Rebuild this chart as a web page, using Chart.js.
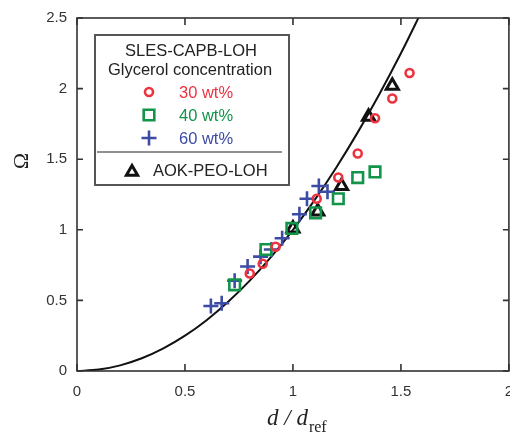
<!DOCTYPE html>
<html>
<head>
<meta charset="utf-8">
<script src="https://cdn.jsdelivr.net/npm/chart.js@4/dist/chart.umd.min.js"></script>
<style>
  html, body { margin: 0; padding: 0; background: #fff; overflow: hidden; }
  #wrap { width: 510px; height: 436px; overflow: hidden; }
</style>
</head>
<body>
<div id="wrap"><canvas id="chart" width="519" height="436"></canvas></div>
<script>
// values
const xTicks = [0, 0.5, 1, 1.5, 2];
const yTicks = [0, 0.5, 1, 1.5, 2, 2.5];

const fitX = [0, 0.1, 0.2, 0.3, 0.4, 0.5, 0.6, 0.7, 0.8, 0.9, 1.0, 1.1, 1.2, 1.3, 1.4, 1.5, 1.6];
const fitY = [0, 0.01, 0.04, 0.09, 0.16, 0.25, 0.36, 0.49, 0.64, 0.81, 1.0, 1.21, 1.44, 1.69, 1.96, 2.25, 2.56];

const wt30X = [0.80, 0.86, 0.92, 1.11, 1.21, 1.30, 1.38, 1.46, 1.54];
const wt30Y = [0.69, 0.76, 0.88, 1.22, 1.37, 1.54, 1.79, 1.93, 2.11];

const wt40X = [0.73, 0.875, 0.995, 1.105, 1.21, 1.30, 1.38];
const wt40Y = [0.61, 0.86, 1.01, 1.12, 1.22, 1.37, 1.41];

const wt60X = [0.62, 0.67, 0.73, 0.79, 0.85, 0.90, 0.95, 1.03, 1.065, 1.12, 1.16];
const wt60Y = [0.46, 0.48, 0.64, 0.74, 0.81, 0.86, 0.94, 1.11, 1.22, 1.31, 1.27];

const aokX = [1.0, 1.115, 1.225, 1.35, 1.46];
const aokY = [1.01, 1.13, 1.31, 1.80, 2.02];

const RED = '#ec3340', GREEN = '#12944a', BLUE = '#3c4ba4', INK = '#222';

const pts = (xs, ys) => xs.map((x, i) => ({ x, y: ys[i] }));

function markerSet(label, xs, ys, style, color, radius, width) {
    return {
        type: 'scatter', label, data: pts(xs, ys),
        pointStyle: style, pointRadius: radius, pointHoverRadius: radius,
        pointBorderColor: color, pointBackgroundColor: 'rgba(0,0,0,0)',
        pointBorderWidth: width, borderColor: color, backgroundColor: 'rgba(0,0,0,0)'
    };
}

function drawMarker(ctx, style, color, r, w, x, y) {
    ctx.save();
    ctx.strokeStyle = color;
    ctx.fillStyle = 'rgba(0,0,0,0)';
    ctx.lineWidth = w;
    if (Chart.helpers && Chart.helpers.drawPoint) {
        Chart.helpers.drawPoint(ctx, { pointStyle: style, radius: r, borderWidth: w, rotation: 0 }, x, y);
    }
    ctx.restore();
}

const framePlugin = {
    id: 'frame',
    afterDatasetsDraw(chart) {
        const { ctx, chartArea: a, scales: { x, y } } = chart;
        ctx.save();
        ctx.strokeStyle = '#333';
        ctx.lineWidth = 1.6;
        ctx.strokeRect(a.left, a.top, a.right - a.left, a.bottom - a.top);
        ctx.beginPath();
        xTicks.forEach(v => {
            const px = x.getPixelForValue(v);
            ctx.moveTo(px, a.bottom); ctx.lineTo(px, a.bottom - 7);
            ctx.moveTo(px, a.top); ctx.lineTo(px, a.top + 7);
        });
        yTicks.forEach(v => {
            const py = y.getPixelForValue(v);
            ctx.moveTo(a.left, py); ctx.lineTo(a.left + 6, py);
            ctx.moveTo(a.right, py); ctx.lineTo(a.right - 6, py);
        });
        ctx.stroke();

        // axis titles
        ctx.fillStyle = INK;
        ctx.textBaseline = 'alphabetic';
        ctx.textAlign = 'left';
        ctx.font = 'italic 23px "Liberation Serif", "Times New Roman", serif';
        const main = 'd / d';
        const mw = ctx.measureText(main).width;
        const startX = 267;
        ctx.fillText(main, startX, 425);
        ctx.font = '16px "Liberation Serif", "Times New Roman", serif';
        ctx.fillText('ref', startX + mw + 1, 432);

        ctx.save();
        ctx.translate(28, 161);
        ctx.rotate(-Math.PI / 2);
        ctx.textAlign = 'center';
        ctx.font = '22px "Liberation Serif", "Times New Roman", serif';
        ctx.fillText('Ω', 0, 0);
        ctx.restore();

        // legend box
        const bx = 95, by = 35, bw = 194, bh = 150;
        ctx.fillStyle = '#fff';
        ctx.fillRect(bx, by, bw, bh);
        ctx.strokeStyle = '#555';
        ctx.lineWidth = 2;
        ctx.strokeRect(bx, by, bw, bh);
        ctx.font = '16.5px "Liberation Sans", Arial, sans-serif';
        ctx.textBaseline = 'middle';
        ctx.textAlign = 'center';
        ctx.fillStyle = INK;
        ctx.fillText('SLES-CAPB-LOH', 191, 51);
        ctx.fillText('Glycerol concentration', 190, 70);
        ctx.textAlign = 'left';
        const rows = [
            ['30 wt%', 'circle', RED, 4, 2.6, 92],
            ['40 wt%', 'rect', GREEN, 7.5, 2.6, 115],
            ['60 wt%', 'cross', BLUE, 7.5, 2.6, 138]
        ];
        rows.forEach(([t, st, c, r, w, ry]) => {
            drawMarker(ctx, st, c, r, w, 149, ry);
            ctx.fillStyle = c;
            ctx.fillText(t, 179, ry + 1);
        });
        ctx.strokeStyle = INK;
        ctx.lineWidth = 1.2;
        ctx.beginPath();
        ctx.moveTo(97, 152); ctx.lineTo(282, 152);
        ctx.stroke();
        drawMarker(ctx, 'triangle', '#111', 6.5, 3, 132, 172);
        ctx.fillStyle = INK;
        ctx.fillText('AOK-PEO-LOH', 153, 171);
        ctx.restore();
    }
};

const tickFont = { family: '"Liberation Sans", Arial, sans-serif', size: 15 };

new Chart(document.getElementById('chart'), {
    type: 'scatter',
    data: {
        datasets: [
            markerSet('30 wt%', wt30X, wt30Y, 'circle', RED, 4, 2.6),
            markerSet('40 wt%', wt40X, wt40Y, 'rect', GREEN, 7.5, 2.6),
            markerSet('60 wt%', wt60X, wt60Y, 'cross', BLUE, 7.5, 2.6),
            markerSet('AOK-PEO-LOH', aokX, aokY, 'triangle', '#111', 7, 3),
            {
                type: 'line', label: 'fit', data: pts(fitX, fitY),
                borderColor: '#111', borderWidth: 2, pointRadius: 0,
                cubicInterpolationMode: 'monotone', fill: false
            }
        ]
    },
    options: {
        responsive: false,
        animation: false,
        events: [],
        layout: { padding: { top: 18, right: 1, bottom: 0, left: 0 } },
        plugins: { legend: { display: false }, tooltip: { enabled: false } },
        scales: {
            x: {
                type: 'linear', min: 0, max: 2,
                grid: { display: false, drawTicks: false },
                border: { display: false },
                ticks: {
                    stepSize: 0.5, padding: 12, color: '#333', font: tickFont,
                    callback: v => String(v)
                },
                afterFit(s) { s.height = 65; s.paddingLeft = 0; s.paddingRight = 0; }
            },
            y: {
                type: 'linear', min: 0, max: 2.5,
                grid: { display: false, drawTicks: false },
                border: { display: false },
                ticks: {
                    stepSize: 0.5, padding: 10, color: '#333', font: tickFont,
                    callback: v => String(v)
                },
                afterFit(s) { s.width = 77; s.paddingTop = 0; s.paddingBottom = 0; }
            }
        }
    },
    plugins: [framePlugin]
});
</script>
</body>
</html>
